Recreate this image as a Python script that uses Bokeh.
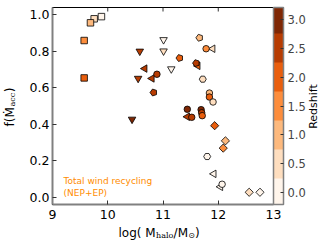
import numpy as np
from math import pi
from bokeh.plotting import figure
from bokeh.layouts import row, column
from bokeh.models import (ColorBar, LinearColorMapper, FixedTicker, NumeralTickFormatter,
                          Label, Range1d, ColumnDataSource)
from bokeh.transform import transform
from bokeh.embed import file_html
from bokeh.resources import INLINE

# ---------------- data ----------------
z_levels = [0.0, 0.5, 1.0, 1.5, 2.0, 2.5, 3.0]
palette = ["#fff5eb", "#fedebf", "#fdb97d", "#fd8d3c", "#e95e0d", "#b73c02", "#7f2704"]
x_ticks = [9, 10, 11, 12, 13]
y_ticks = [0.0, 0.2, 0.4, 0.6, 0.8, 1.0]

sq_x = [9.886, 9.754, 9.687, 9.573, 9.573]
sq_y = [0.990, 0.978, 0.956, 0.859, 0.654]
sq_z = [0.0, 0.5, 1.0, 1.5, 2.0]

vt_x = [11.01, 10.58, 11.01, 11.15, 10.55, 10.44]
vt_y = [0.863, 0.800, 0.801, 0.703, 0.651, 0.427]
vt_z = [0.0, 2.5, 0.5, 0.0, 2.5, 3.0]

lt_x = [10.67, 10.80, 11.90, 11.63, 11.44, 11.92, 12.04]
lt_y = [0.705, 0.651, 0.814, 0.720, 0.441, 0.128, 0.057]
lt_z = [2.5, 2.5, 0.5, 2.0, 2.5, 0.0, 0.0]

pg_x = [11.30, 10.83, 11.66, 11.60]
pg_y = [0.763, 0.574, 0.874, 0.735]
pg_z = [2.0, 2.5, 1.0, 2.5]

hx_x = [11.72, 11.80]
hx_y = [0.647, 0.223]
hx_z = [0.5, 0.0]

ci_x = [10.89, 11.78, 11.84, 11.84, 11.906, 11.44, 11.52, 11.69, 11.70, 11.71, 12.07]
ci_y = [0.674, 0.814, 0.571, 0.549, 0.522, 0.482, 0.438, 0.480, 0.463, 0.447, 0.071]
ci_z = [2.5, 1.5, 1.0, 2.0, 0.5, 3.0, 2.5, 3.0, 2.5, 2.0, 0.0]

di_x = [11.935, 12.13, 12.09, 12.56, 12.755]
di_y = [0.392, 0.309, 0.269, 0.027, 0.027]
di_z = [2.0, 1.0, 1.5, 0.5, 0.0]

# ---------------- layout sizes ----------------
FONT = "DejaVu Sans"
X0, X1, Y0, Y1 = 9, 13, -0.04, 1.04
W, H = 325, 244
LW = 18          # strip on the left holding the y label
BH = 18          # strip at the bottom holding the x label
MW, MH = W - LW, H - BH
BL, BR, BT, BB = 34, 52, 7, 22


def strip(w, h):
    f = figure(width=w, height=h, x_range=Range1d(0, w), y_range=Range1d(0, h),
               output_backend="svg", toolbar_location=None, x_axis_type=None, y_axis_type=None,
               min_border=0, outline_line_color=None)
    f.grid.visible = False
    f.background_fill_color = "white"
    f.border_fill_color = "white"
    return f


# ---------------- main figure ----------------
p = figure(width=MW, height=MH, x_range=Range1d(X0, X1), y_range=Range1d(Y0, Y1),
           output_backend="svg", toolbar_location=None,
           min_border_left=BL, min_border_right=BR, min_border_top=BT, min_border_bottom=BB)
p.grid.visible = False
p.outline_line_color = "black"
p.outline_line_width = 1
p.background_fill_color = "white"
p.border_fill_color = "white"

for ax in (p.xaxis[0], p.yaxis[0]):
    ax.axis_line_color = "#808080"
    ax.axis_line_width = 2
    ax.major_tick_in = 4
    ax.major_tick_out = 0
    ax.minor_tick_in = 0
    ax.minor_tick_out = 0
    ax.major_tick_line_color = "#333333"
    ax.major_label_text_font = FONT
    ax.major_label_text_font_size = "12.5px"
    ax.major_label_text_color = "black"

p.xaxis.ticker = FixedTicker(ticks=x_ticks, minor_ticks=[])
p.xaxis.major_label_standoff = 5
p.yaxis.ticker = FixedTicker(ticks=y_ticks, minor_ticks=[])
p.yaxis.formatter = NumeralTickFormatter(format="0.0")
p.yaxis.major_label_standoff = 3

# inward ticks along the top edge of the frame
frame_h = MH - BT - BB
tick_len = 4 * (Y1 - Y0) / frame_h
p.segment(x0=x_ticks, y0=[Y1] * len(x_ticks), x1=x_ticks, y1=[Y1 - tick_len] * len(x_ticks),
          line_color="#333333", line_width=1)

cmap = LinearColorMapper(palette=palette, low=-0.25, high=3.25)


def add(xs, ys, zs, **kw):
    src = ColumnDataSource(dict(x=xs, y=ys, z=zs))
    p.scatter("x", "y", source=src, fill_color=transform("z", cmap),
              line_color="black", line_width=0.8, **kw)


add(sq_x, sq_y, sq_z, marker="square", size=6.5)
add(vt_x, vt_y, vt_z, marker="inverted_triangle", size=7.5)
add(lt_x, lt_y, lt_z, marker="triangle", size=7.5, angle=pi / 2)
add(hx_x, hx_y, hx_z, marker="hex", size=7)
pg_src = ColumnDataSource(dict(x=pg_x, y=pg_y, z=pg_z))
p.ngon("x", "y", source=pg_src, radius=3.6, radius_units="screen", n=5, angle=pi / 2,
       fill_color=transform("z", cmap), line_color="black", line_width=0.8)
add(ci_x, ci_y, ci_z, marker="circle", size=6.5)
add(di_x, di_y, di_z, marker="square", size=5.8, angle=pi / 4)

# colorbar with 0.5-wide bins on a -0.2..3.2 scale
cb_low, cb_high, step = -0.2, 3.2, 0.05
nb = int(round((cb_high - cb_low) / step))
cb_palette = []
for i in range(nb):
    c = cb_low + step * (i + 0.5)
    k = int(np.floor(c / 0.5 + 0.5))
    cb_palette.append(palette[min(max(k, 0), len(palette) - 1)])
cb_mapper = LinearColorMapper(palette=cb_palette, low=cb_low, high=cb_high)
cb = ColorBar(color_mapper=cb_mapper, ticker=FixedTicker(ticks=z_levels, minor_ticks=[]),
              formatter=NumeralTickFormatter(format="0.0"), width=10, padding=0, margin=0,
              location=(0, 0), label_standoff=4,
              major_label_text_font=FONT, major_label_text_font_size="11.5px",
              major_tick_line_color="#333333", major_tick_in=3, major_tick_out=0,
              minor_tick_line_color=None, bar_line_color="#808080", bar_line_width=1.5,
              border_line_color=None, background_fill_color=None)
p.add_layout(cb, "right")

p.add_layout(Label(x=5, y=98, x_units="screen", y_units="screen", text="Redshift",
                   angle=pi / 2, text_align="center", text_baseline="alphabetic",
                   text_font=FONT, text_font_size="11px", text_color="black"), "right")

# annotation
for tx, yy in [("Total wind recycling", 0.088), ("(NEP+EP)", 0.023)]:
    p.add_layout(Label(x=9.2, y=yy, text=tx, text_align="left", text_baseline="alphabetic",
                       text_font=FONT, text_font_size="9px", text_color="#ff8c00"))

# ---------------- x label strip:  log( M_halo / M_sun ) ----------------
# (this strip's frame is aligned with the main frame, so x counts from the frame's left edge)
bx = strip(MW, BH)
xb = 12.0
for tx, x0, yy, sz, fnt in [("log( M", 66, xb, "12px", FONT),
                            ("halo", 103.5, xb - 2.5, "8px", "DejaVu Serif"),
                            ("/M", 121.1, xb, "12px", FONT),
                            ("\u2299", 135.8, xb - 2.5, "8px", FONT),
                            (" )", 142.5, xb, "12px", FONT)]:
    bx.add_layout(Label(x=x0, y=yy, x_units="screen", y_units="screen", text=tx,
                        text_align="left", text_baseline="alphabetic",
                        text_font=fnt, text_font_size=sz, text_color="black"))

# ---------------- y label strip:  f(Mdot_acc) ----------------
ly = strip(LW, H)
yb = 9.0
for tx, xx, y0, sz, fnt in [("f(\u1e40", yb, 118, "12px", FONT),
                            ("acc", yb + 3, 138, "8px", "DejaVu Serif"),
                            (")", yb, 152.2, "12px", FONT)]:
    ly.add_layout(Label(x=xx, y=y0, x_units="screen", y_units="screen", text=tx,
                        angle=pi / 2, text_align="left", text_baseline="alphabetic",
                        text_font=fnt, text_font_size=sz, text_color="black"))

layout = row(ly, column(p, bx, spacing=0), spacing=0)
open("out.html", "w").write(file_html(layout, INLINE))
